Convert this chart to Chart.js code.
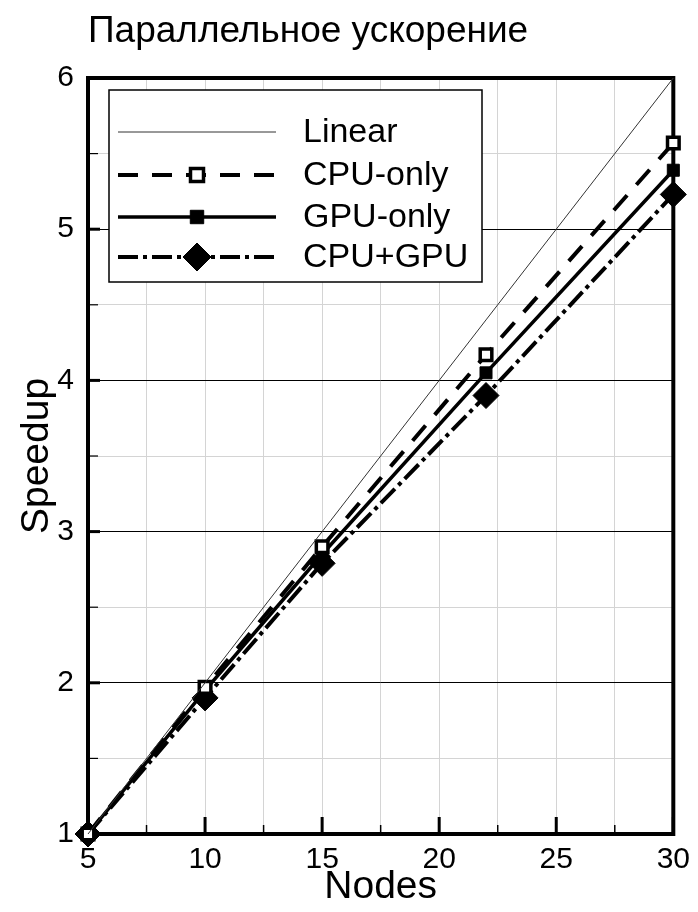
<!DOCTYPE html>
<html>
<head>
<meta charset="utf-8">
<script src="https://cdn.jsdelivr.net/npm/chart.js@4"></script>
<style>
  html, body { margin: 0; padding: 0; background: #fff; }
</style>
</head>
<body>
<canvas id="chart" width="698" height="912"></canvas>
<script>
const nodes = [5, 10, 15, 22, 30];
const linear = [1, 2, 3, 4.4, 6];
const cpuOnly = [1, 1.97, 2.9, 4.17, 5.57];
const gpuOnly = [1, 1.95, 2.85, 4.05, 5.39];
const cpuGpu = [1, 1.9, 2.79, 3.9, 5.23];
const xTickLabels = [5, 10, 15, 20, 25, 30];
const yTickLabels = [1, 2, 3, 4, 5, 6];
const titleText = 'Параллельное ускорение';

const FONT = "Arial, 'Liberation Sans', sans-serif";

function pts(ys) {
  return nodes.map((x, i) => ({ x: x, y: ys[i] }));
}

const data = {
  datasets: [
    {
      label: 'Linear',
      data: pts(linear),
      borderColor: '#333',
      borderWidth: 1,
      pointRadius: 0,
      clip: false
    },
    {
      label: 'CPU-only',
      data: pts(cpuOnly),
      borderColor: '#000',
      borderWidth: 4,
      borderDash: [20, 14],
      pointStyle: 'rect',
      pointRadius: 8.2,
      pointBorderWidth: 3.5,
      pointBackgroundColor: '#fff',
      pointBorderColor: '#000',
      clip: false
    },
    {
      label: 'GPU-only',
      data: pts(gpuOnly),
      borderColor: '#000',
      borderWidth: 3.5,
      pointStyle: 'rect',
      pointRadius: 8.5,
      pointBorderWidth: 1,
      pointBackgroundColor: '#000',
      pointBorderColor: '#000',
      clip: false
    },
    {
      label: 'CPU+GPU',
      data: pts(cpuGpu),
      borderColor: '#000',
      borderWidth: 4,
      borderDash: [20, 5, 4, 5],
      pointStyle: 'rectRot',
      pointRadius: 13,
      pointBorderWidth: 1,
      pointBackgroundColor: '#000',
      pointBorderColor: '#000',
      clip: false
    }
  ]
};

// frame, inward ticks and title
const framePlugin = {
  id: 'frame',
  beforeDatasetsDraw(chart) {
    const { ctx, chartArea: a, scales } = chart;
    ctx.save();
    ctx.strokeStyle = '#000';
    // x ticks
    for (let v = 5; v <= 30; v += 2.5) {
      const px = scales.x.getPixelForValue(v);
      const major = v % 5 === 0;
      ctx.lineWidth = major ? 3 : 1.5;
      ctx.beginPath();
      ctx.moveTo(px, a.bottom);
      ctx.lineTo(px, a.bottom - (major ? 17 : 9));
      ctx.stroke();
    }
    // y ticks
    for (let v = 1; v <= 6; v += 0.5) {
      const py = scales.y.getPixelForValue(v);
      const major = Number.isInteger(v);
      ctx.lineWidth = major ? 3 : 1.2;
      ctx.beginPath();
      ctx.moveTo(a.left, py);
      ctx.lineTo(a.left + (major ? 12 : 10), py);
      ctx.stroke();
    }
    ctx.lineWidth = 4;
    ctx.strokeRect(a.left, a.top, a.right - a.left, a.bottom - a.top);

    // title
    ctx.fillStyle = '#000';
    ctx.font = '37px ' + FONT;
    ctx.textBaseline = 'alphabetic';
    ctx.fillText(titleText, 88, 42);
    ctx.restore();
  }
};

// boxed legend with line samples
const legendPlugin = {
  id: 'boxLegend',
  afterDatasetsDraw(chart) {
    const { ctx } = chart;
    const rows = [132, 175, 217, 257];
    ctx.save();
    ctx.fillStyle = '#fff';
    ctx.fillRect(109, 90, 373, 192);
    ctx.strokeStyle = '#000';
    ctx.lineWidth = 1.5;
    ctx.strokeRect(109, 90, 373, 192);
    chart.data.datasets.forEach((ds, i) => {
      const y = rows[i];
      ctx.save();
      ctx.strokeStyle = ds.borderColor;
      ctx.lineWidth = ds.borderWidth;
      ctx.setLineDash(ds.borderDash || []);
      ctx.beginPath();
      ctx.moveTo(118, y);
      ctx.lineTo(276, y);
      ctx.stroke();
      ctx.restore();
      if (ds.pointRadius > 0) {
        ctx.save();
        ctx.fillStyle = ds.pointBackgroundColor;
        ctx.strokeStyle = ds.pointBorderColor;
        ctx.lineWidth = ds.pointBorderWidth;
        Chart.helpers.drawPoint(ctx, {
          pointStyle: ds.pointStyle,
          radius: ds.pointRadius + 1,
          borderWidth: ds.pointBorderWidth,
          rotation: 0
        }, 197, y);
        ctx.restore();
      }
      ctx.fillStyle = '#000';
      ctx.font = '34px ' + FONT;
      ctx.textBaseline = 'middle';
      ctx.fillText(ds.label, 303, y + 1);
    });
    ctx.restore();
  }
};

const config = {
  type: 'line',
  data: data,
  options: {
    responsive: false,
    animation: false,
    layout: { padding: { top: 78, right: 21, left: 0, bottom: 0 } },
    plugins: {
      legend: { display: false },
      tooltip: { enabled: false }
    },
    scales: {
      x: {
        type: 'linear',
        min: 5,
        max: 30,
        afterFit: s => { s.height = 78; },
        border: { display: false },
        grid: { color: '#d4d4d4', lineWidth: 1, drawTicks: false },
        ticks: {
          stepSize: 2.5,
          autoSkip: false,
          maxRotation: 0,
          padding: 8,
          color: '#000',
          font: { family: FONT, size: 30 },
          callback: v => xTickLabels.includes(v) ? String(v) : ''
        },
        title: {
          display: true,
          text: 'Nodes',
          color: '#000',
          font: { family: FONT, size: 39 },
          padding: { top: 0, bottom: 1 }
        }
      },
      y: {
        type: 'linear',
        min: 1,
        max: 6,
        afterFit: s => { s.width = 88; },
        border: { display: false },
        grid: {
          color: c => Number.isInteger(c.tick.value) ? '#000' : '#d4d4d4',
          lineWidth: 1,
          drawTicks: false
        },
        ticks: {
          stepSize: 0.5,
          autoSkip: false,
          padding: 14,
          color: '#000',
          font: { family: FONT, size: 30 },
          callback: v => yTickLabels.includes(v) ? String(v) : ''
        },
        title: {
          display: true,
          text: 'Speedup',
          color: '#000',
          font: { family: FONT, size: 39 },
          padding: { top: 14, bottom: 0 }
        }
      }
    }
  },
  plugins: [framePlugin, legendPlugin]
};

var chart = new Chart(document.getElementById('chart'), config);
</script>
</body>
</html>
